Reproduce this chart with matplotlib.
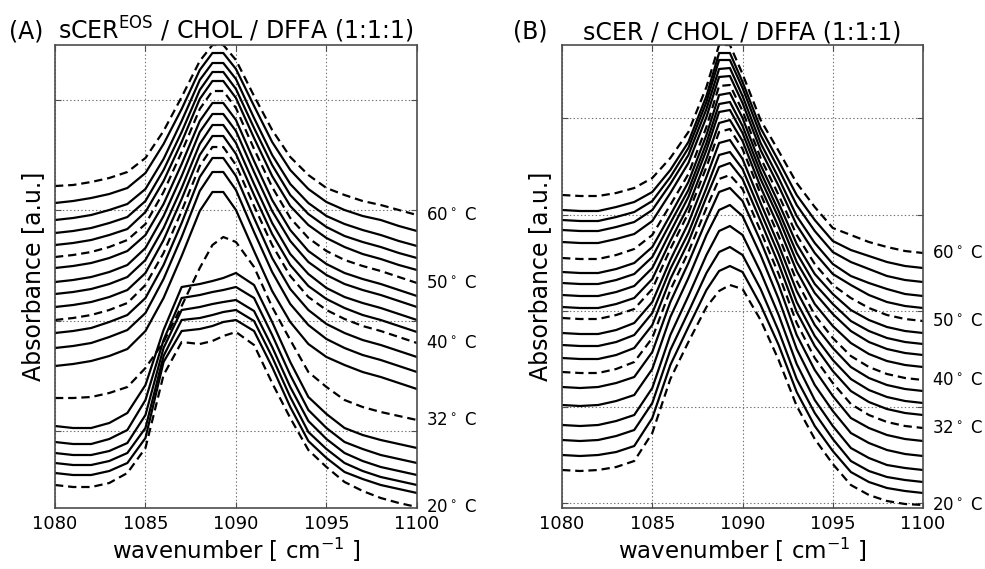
import matplotlib
matplotlib.use('Agg')
import matplotlib.pyplot as plt

# wavenumber sampling [cm-1]
wn = [1080, 1081, 1082, 1083, 1084, 1085, 1086, 1087, 1088, 1088.7, 1089.3,
      1090, 1091, 1092, 1093, 1094, 1095, 1096, 1097, 1098, 1099, 1100]

temps = [20, 22, 24, 26, 28, 30, 32, 34, 36, 38, 40,
         42, 44, 46, 48, 50, 52, 54, 56, 58, 60]
dashed_temps = [20, 32, 40, 50, 60]

# stacked absorbance (arbitrary units, offsets included), one row per temperature
eos = [
    [56, 54, 54, 58, 68, 93, 166, 199, 197, 200, 205, 209, 196, 158, 123, 91, 74, 59, 50, 43, 38, 34],
    [68, 66, 66, 70, 78, 103, 179, 210, 212, 215, 219, 221, 210, 174, 134, 100, 83, 69, 62, 56, 52, 48],
    [78, 76, 76, 80, 88, 113, 185, 221, 223, 226, 229, 231, 220, 184, 144, 109, 92, 78, 70, 64, 60, 56],
    [88, 86, 86, 90, 98, 126, 193, 231, 234, 237, 239, 241, 230, 194, 154, 120, 102, 88, 80, 74, 70, 66],
    [99, 97, 97, 102, 111, 141, 201, 243, 246, 249, 251, 254, 243, 206, 166, 131, 113, 99, 92, 86, 82, 78],
    [115, 113, 113, 118, 128, 156, 211, 254, 257, 260, 263, 268, 256, 219, 179, 144, 127, 113, 106, 101, 97, 93],
    [143, 143, 144, 148, 154, 173, 199, 235, 273, 296, 304, 299, 274, 234, 201, 169, 154, 141, 134, 129, 125, 121],
    [175, 177, 180, 185, 192, 210, 243, 285, 330, 349, 349, 331, 290, 250, 219, 197, 184, 176, 169, 164, 158, 152],
    [193, 195, 198, 204, 211, 228, 262, 304, 350, 369, 369, 351, 309, 269, 237, 216, 202, 193, 186, 181, 175, 169],
    [208, 210, 213, 219, 226, 243, 276, 318, 364, 383, 383, 365, 323, 283, 252, 231, 217, 208, 201, 196, 190, 184],
    [221, 223, 226, 231, 238, 256, 288, 330, 375, 394, 394, 376, 335, 296, 265, 244, 231, 222, 215, 210, 204, 198],
    [234, 236, 239, 244, 251, 268, 301, 342, 386, 405, 405, 387, 346, 307, 276, 255, 242, 233, 226, 221, 215, 209],
    [247, 249, 252, 257, 264, 281, 313, 353, 397, 416, 416, 398, 357, 318, 287, 267, 253, 244, 238, 233, 227, 221],
    [259, 261, 264, 269, 276, 293, 325, 365, 409, 427, 427, 410, 369, 330, 300, 279, 266, 257, 251, 246, 240, 234],
    [273, 275, 278, 283, 290, 306, 337, 377, 420, 438, 438, 421, 380, 341, 311, 290, 277, 268, 262, 257, 251, 245],
    [284, 286, 289, 294, 301, 317, 349, 389, 432, 450, 450, 433, 392, 354, 323, 303, 290, 281, 275, 270, 264, 258],
    [296, 298, 301, 306, 312, 329, 360, 399, 442, 460, 460, 443, 403, 365, 335, 316, 303, 294, 287, 282, 276, 271],
    [308, 310, 313, 318, 324, 340, 371, 409, 451, 469, 469, 452, 413, 376, 346, 327, 314, 305, 299, 294, 288, 283],
    [321, 323, 326, 331, 337, 352, 382, 420, 461, 478, 478, 462, 423, 386, 357, 338, 325, 317, 311, 306, 300, 295],
    [338, 340, 343, 347, 353, 368, 397, 432, 471, 488, 488, 472, 435, 399, 371, 352, 339, 331, 325, 321, 315, 310],
    [355, 356, 359, 363, 369, 383, 410, 444, 480, 496, 496, 481, 445, 411, 384, 366, 353, 346, 340, 336, 331, 326],
]

scer = [
    [130, 129, 130, 133, 139, 167, 221, 258, 293, 309, 315, 311, 280, 240, 194, 161, 136, 115, 105, 99, 96, 95],
    [145, 144, 145, 148, 154, 182, 235, 273, 310, 329, 334, 328, 295, 255, 208, 174, 149, 128, 118, 112, 109, 107],
    [160, 159, 160, 164, 170, 197, 250, 288, 327, 348, 353, 345, 311, 269, 221, 187, 161, 139, 129, 123, 120, 118],
    [175, 174, 175, 179, 185, 212, 265, 304, 345, 369, 374, 365, 328, 285, 236, 200, 174, 152, 142, 135, 132, 130],
    [195, 194, 195, 199, 205, 231, 283, 322, 365, 390, 395, 384, 345, 301, 251, 215, 189, 167, 157, 150, 146, 144],
    [213, 212, 213, 217, 223, 248, 298, 337, 380, 408, 412, 399, 359, 315, 265, 230, 204, 182, 172, 165, 161, 159],
    [228, 227, 227, 231, 238, 262, 310, 348, 392, 421, 425, 411, 369, 326, 277, 242, 217, 196, 185, 178, 174, 172],
    [242, 241, 241, 245, 252, 275, 321, 358, 403, 433, 437, 421, 379, 336, 288, 254, 229, 209, 198, 191, 187, 185],
    [255, 254, 254, 258, 265, 287, 331, 367, 412, 445, 448, 431, 388, 346, 298, 264, 240, 221, 210, 203, 199, 197],
    [267, 266, 266, 270, 277, 298, 340, 377, 423, 457, 460, 441, 397, 355, 309, 275, 252, 233, 222, 215, 211, 209],
    [282, 281, 281, 285, 291, 311, 351, 387, 433, 468, 471, 451, 406, 364, 319, 285, 262, 244, 233, 226, 222, 220],
    [293, 292, 292, 296, 302, 321, 359, 394, 441, 477, 480, 459, 413, 373, 329, 296, 274, 257, 246, 239, 235, 233],
    [305, 304, 304, 308, 314, 332, 368, 403, 450, 488, 490, 467, 421, 382, 338, 307, 286, 269, 258, 251, 247, 245],
    [317, 316, 316, 320, 326, 343, 377, 410, 457, 496, 498, 474, 428, 389, 347, 316, 296, 279, 269, 262, 258, 256],
    [328, 327, 327, 331, 337, 353, 385, 418, 465, 505, 507, 482, 435, 397, 356, 326, 306, 290, 280, 273, 269, 267],
    [342, 341, 341, 345, 351, 365, 395, 426, 473, 514, 515, 489, 442, 405, 365, 336, 315, 302, 292, 285, 281, 279],
    [358, 357, 357, 361, 366, 379, 407, 437, 483, 523, 524, 497, 450, 414, 375, 347, 326, 315, 305, 298, 294, 292],
    [370, 369, 369, 373, 378, 390, 416, 445, 491, 531, 532, 504, 457, 422, 384, 357, 336, 324, 317, 311, 306, 304],
    [380, 379, 379, 383, 388, 399, 423, 452, 498, 540, 540, 512, 465, 431, 395, 369, 348, 338, 331, 324, 320, 318],
    [390, 389, 389, 393, 398, 408, 430, 458, 504, 547, 547, 518, 472, 439, 405, 380, 359, 350, 344, 338, 334, 332],
    [405, 404, 404, 407, 412, 422, 442, 468, 513, 555, 555, 526, 480, 449, 417, 393, 372, 365, 358, 353, 349, 347],
]

plt.rcParams['font.family'] = 'DejaVu Sans'
plt.rcParams['mathtext.fontset'] = 'dejavusans'
plt.rcParams['lines.scale_dashes'] = False


def panel(ax, spectra, title, ylim, yticks):
    for t, y in zip(temps, spectra):
        if t in dashed_temps:
            ax.plot(wn, y, color='k', lw=1.6, ls=(0, (6, 3.5)))
            ax.text(1100.5, y[-1], r'%d$^\circ$ C' % t, ha='left', va='center',
                    fontsize=12, clip_on=False)
        else:
            ax.plot(wn, y, color='k', lw=1.6)
    ax.set_xlim(1080, 1100)
    ax.set_ylim(*ylim)
    ax.set_xticks([1080, 1085, 1090, 1095, 1100])
    ax.set_yticks(yticks)
    ax.tick_params(direction='in', top=True, right=True, labelleft=False,
                   labelsize=13, length=4, color='0.3', pad=5)
    ax.grid(True, ls=':', color='0.45', lw=0.8)
    for s in ax.spines.values():
        s.set_color('0.3')
        s.set_linewidth(1.2)
    ax.set_title(title, fontsize=17, pad=4)
    ax.set_xlabel(r'wavenumber [ cm$^{-1}$ ]', fontsize=16.5, labelpad=2)
    ax.set_ylabel('Absorbance [a.u.]', fontsize=17, labelpad=7)


fig = plt.figure(figsize=(9.85, 5.69), dpi=100)
ax1 = fig.add_axes([0.0558, 0.1072, 0.3675, 0.8137])
ax2 = fig.add_axes([0.5706, 0.1072, 0.3665, 0.8137])

panel(ax1, eos, r'sCER$^{\mathrm{EOS}}$ / CHOL / DFFA (1:1:1)',
      (33, 496), [110, 220, 331, 441])
panel(ax2, scer, 'sCER / CHOL / DFFA (1:1:1)',
      (92, 555), [97, 193, 289, 385, 482])

fig.text(0.009, 0.933, '(A)', fontsize=17)
fig.text(0.521, 0.933, '(B)', fontsize=17)

fig.savefig('out.png', dpi=100)
